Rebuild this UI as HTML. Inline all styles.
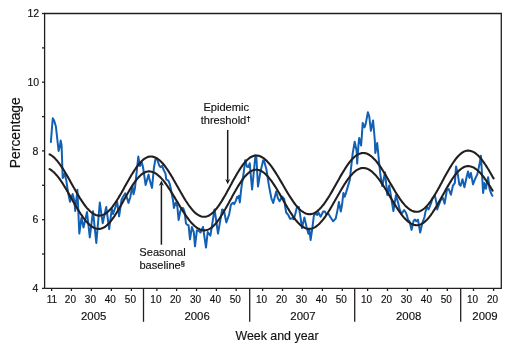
<!DOCTYPE html>
<html><head><meta charset="utf-8"><style>
html,body{margin:0;padding:0;background:#fff;width:518px;height:349px;overflow:hidden}
svg{display:block;will-change:transform}
</style></head><body>
<svg width="518" height="349" viewBox="0 0 518 349"><g fill="none" stroke="#231f20" stroke-width="1.3"><path d="M44.6,288.4 V13.5 H501.3 V288.4 H44.6"/><path d="M42.0,288.4 H44.6"/><path d="M42.0,254.0 H44.6"/><path d="M42.0,219.7 H44.6"/><path d="M42.0,185.3 H44.6"/><path d="M42.0,150.9 H44.6"/><path d="M42.0,116.6 H44.6"/><path d="M42.0,82.2 H44.6"/><path d="M42.0,47.9 H44.6"/><path d="M42.0,13.5 H44.6"/><path d="M51.6,288.4 V291.0"/><path d="M71.4,288.4 V291.0"/><path d="M91.4,288.4 V291.0"/><path d="M111.3,288.4 V291.0"/><path d="M131.4,288.4 V291.0"/><path d="M156.9,288.4 V291.0"/><path d="M176.6,288.4 V291.0"/><path d="M196.5,288.4 V291.0"/><path d="M216.4,288.4 V291.0"/><path d="M236.2,288.4 V291.0"/><path d="M262.6,288.4 V291.0"/><path d="M282.5,288.4 V291.0"/><path d="M302.4,288.4 V291.0"/><path d="M322.4,288.4 V291.0"/><path d="M342.3,288.4 V291.0"/><path d="M367.6,288.4 V291.0"/><path d="M387.5,288.4 V291.0"/><path d="M407.4,288.4 V291.0"/><path d="M427.4,288.4 V291.0"/><path d="M447.3,288.4 V291.0"/><path d="M473.5,288.4 V291.0"/><path d="M493.6,288.4 V291.0"/><path d="M143.5,288.4 V321.8"/><path d="M249.7,288.4 V321.8"/><path d="M354.7,288.4 V321.8"/><path d="M460.7,288.4 V321.8"/></g><g font-family="'Liberation Sans', sans-serif" fill="#111" stroke="#111" stroke-width="0.15"><text x="38.3" y="292.1" font-size="10.5" text-anchor="end">4</text><text x="38.3" y="223.4" font-size="10.5" text-anchor="end">6</text><text x="38.3" y="154.6" font-size="10.5" text-anchor="end">8</text><text x="39.2" y="85.9" font-size="10.5" text-anchor="end">10</text><text x="39.2" y="17.2" font-size="10.5" text-anchor="end">12</text><text x="51.9" y="302.6" font-size="10" text-anchor="middle">11</text><text x="70.4" y="302.6" font-size="10" text-anchor="middle">20</text><text x="90.4" y="302.6" font-size="10" text-anchor="middle">30</text><text x="110.3" y="302.6" font-size="10" text-anchor="middle">40</text><text x="130.4" y="302.6" font-size="10" text-anchor="middle">50</text><text x="155.9" y="302.6" font-size="10" text-anchor="middle">10</text><text x="175.6" y="302.6" font-size="10" text-anchor="middle">20</text><text x="195.5" y="302.6" font-size="10" text-anchor="middle">30</text><text x="215.4" y="302.6" font-size="10" text-anchor="middle">40</text><text x="235.2" y="302.6" font-size="10" text-anchor="middle">50</text><text x="261.6" y="302.6" font-size="10" text-anchor="middle">10</text><text x="281.5" y="302.6" font-size="10" text-anchor="middle">20</text><text x="301.4" y="302.6" font-size="10" text-anchor="middle">30</text><text x="321.4" y="302.6" font-size="10" text-anchor="middle">40</text><text x="341.3" y="302.6" font-size="10" text-anchor="middle">50</text><text x="366.6" y="302.6" font-size="10" text-anchor="middle">10</text><text x="386.5" y="302.6" font-size="10" text-anchor="middle">20</text><text x="406.4" y="302.6" font-size="10" text-anchor="middle">30</text><text x="426.4" y="302.6" font-size="10" text-anchor="middle">40</text><text x="446.3" y="302.6" font-size="10" text-anchor="middle">50</text><text x="472.5" y="302.6" font-size="10" text-anchor="middle">10</text><text x="492.6" y="302.6" font-size="10" text-anchor="middle">20</text><text x="93.7" y="320.3" font-size="11.4" text-anchor="middle">2005</text><text x="197.1" y="320.3" font-size="11.4" text-anchor="middle">2006</text><text x="303.0" y="320.3" font-size="11.4" text-anchor="middle">2007</text><text x="408.7" y="320.3" font-size="11.4" text-anchor="middle">2008</text><text x="485.0" y="320.3" font-size="11.4" text-anchor="middle">2009</text><text x="277" y="340.3" font-size="12.4" text-anchor="middle">Week and year</text><text transform="translate(19.8,132.7) rotate(-90)" font-size="13.9" text-anchor="middle">Percentage</text><text x="226.2" y="111.1" font-size="11.1" text-anchor="middle">Epidemic</text><text x="225.7" y="123.7" font-size="11.1" text-anchor="middle">threshold<tspan font-size="8" font-weight="bold" dy="-3">†</tspan></text><text x="162.5" y="255.7" font-size="11.1" text-anchor="middle">Seasonal</text><text x="162.2" y="268.6" font-size="11.1" text-anchor="middle">baseline<tspan font-size="7.5" font-weight="bold" dy="-3">§</tspan></text></g><g stroke="#1a1a1a" stroke-width="1.5" fill="none"><path d="M227.7,130 V180.5"/><path d="M161.4,244.7 V184.5"/></g><g fill="#1a1a1a"><path d="M227.7,184.2 L230.2,179.0 L227.7,180.4 L225.2,179.0 Z"/><path d="M161.4,180.6 L163.9,185.8 L161.4,184.4 L158.9,185.8 Z"/></g><path d="M50.9,141.9 L52.1,126.0 L52.8,118.3 L54.2,120.9 L55.9,126.5 L58.6,150.9 L59.9,146.2 L60.7,140.6 L61.6,145.3 L62.7,178.0 L64.4,173.8 L66.2,179.8 L67.9,191.5 L70.0,201.8 L72.6,194.0 L74.3,200.5 L75.2,211.0 L77.4,189.7 L79.3,233.5 L81.5,217.4 L83.5,227.5 L87.0,212.0 L89.8,237.4 L93.0,211.2 L96.3,243.0 L99.8,202.6 L102.7,223.2 L106.2,207.0 L109.2,229.2 L111.8,208.8 L113.0,214.0 L115.2,207.9 L117.2,202.0 L119.1,216.3 L121.5,200.0 L123.1,196.8 L125.3,193.3 L127.0,197.9 L128.5,202.9 L130.3,197.2 L132.4,185.4 L133.5,194.3 L134.9,188.6 L138.3,156.6 L140.0,166.0 L141.8,162.6 L143.0,167.0 L145.6,184.9 L148.6,174.6 L149.3,178.4 L152.0,187.9 L154.0,167.2 L155.7,157.7 L157.0,158.6 L159.2,165.5 L160.5,167.2 L162.2,165.9 L163.5,169.8 L165.4,173.4 L166.3,179.5 L168.4,180.7 L169.7,183.8 L171.0,189.8 L173.0,200.2 L173.9,207.9 L175.6,202.7 L177.3,206.2 L178.6,220.0 L180.3,211.3 L181.6,207.9 L183.3,208.3 L184.6,212.2 L186.0,223.6 L187.3,224.9 L188.6,225.3 L190.0,239.3 L191.9,227.0 L193.8,232.2 L195.0,246.3 L196.9,230.3 L199.0,231.0 L200.5,232.5 L203.0,227.0 L206.0,247.6 L207.7,232.0 L210.4,235.6 L214.5,209.5 L215.7,217.2 L218.0,233.5 L222.2,209.5 L223.9,210.3 L226.3,222.4 L229.1,214.6 L230.8,205.2 L232.1,203.4 L233.0,202.8 L234.2,204.1 L235.9,200.6 L237.2,196.8 L238.0,198.0 L238.9,195.9 L239.8,202.4 L240.6,194.6 L241.5,186.9 L243.8,172.0 L245.2,160.2 L247.0,166.8 L248.4,167.0 L249.7,163.2 L252.1,189.5 L255.4,155.5 L256.3,156.0 L258.0,186.5 L260.4,172.0 L263.2,160.3 L264.0,160.8 L266.4,169.3 L269.0,186.0 L271.4,198.3 L273.2,203.0 L276.2,191.4 L277.9,198.3 L279.6,201.3 L282.2,196.6 L284.3,199.2 L285.0,205.5 L286.2,212.5 L288.4,215.2 L290.1,218.8 L291.3,218.5 L292.3,218.1 L293.6,219.3 L294.9,215.5 L297.0,206.9 L298.8,206.9 L300.0,213.8 L302.0,228.0 L304.4,217.4 L306.8,227.9 L308.5,233.9 L309.3,229.0 L310.6,240.0 L312.4,227.9 L313.8,216.0 L315.4,213.2 L317.2,215.0 L318.4,212.4 L320.6,216.7 L323.2,211.5 L324.9,211.5 L326.2,214.1 L328.6,214.1 L330.5,217.3 L333.1,221.2 L335.7,218.6 L337.6,209.6 L338.9,201.9 L340.8,211.5 L342.1,204.5 L343.4,192.9 L344.7,196.7 L346.0,192.9 L347.9,186.4 L349.8,180.0 L351.1,167.7 L352.7,153.3 L354.7,141.7 L356.6,150.7 L357.2,163.6 L358.5,144.3 L359.2,137.9 L361.1,145.6 L361.9,135.0 L362.7,123.0 L364.5,127.4 L365.7,123.9 L367.9,112.3 L369.2,116.2 L370.9,130.8 L373.1,120.5 L374.8,140.0 L375.3,153.0 L377.2,143.0 L379.2,163.5 L380.4,175.0 L382.3,186.0 L385.0,172.5 L387.3,195.0 L389.2,185.5 L393.4,211.0 L395.9,195.3 L398.0,202.2 L399.8,210.0 L401.5,214.0 L404.1,210.0 L405.8,212.5 L406.9,215.3 L408.2,220.5 L409.4,220.9 L411.6,229.9 L413.7,220.5 L415.0,219.6 L416.3,221.3 L418.0,219.6 L420.2,232.5 L422.3,223.0 L424.5,217.0 L425.2,212.8 L426.9,207.1 L428.6,209.4 L430.9,203.7 L432.6,197.9 L434.9,195.6 L436.6,203.7 L437.2,209.4 L440.6,200.2 L442.9,197.9 L444.6,203.7 L446.9,190.0 L448.7,189.0 L450.9,194.7 L452.9,185.7 L454.8,183.2 L456.1,166.4 L458.0,175.4 L459.3,184.5 L460.6,185.7 L462.5,179.3 L464.4,187.2 L466.6,177.2 L468.0,171.5 L469.4,177.9 L470.9,172.9 L473.0,184.4 L475.2,178.7 L477.3,174.4 L479.5,164.3 L480.9,155.7 L482.3,178.7 L483.1,193.0 L484.5,183.0 L485.9,188.7 L488.1,177.2 L489.5,188.7 L490.9,193.0 L492.4,195.8" fill="none" stroke="#1260b4" stroke-width="2.0" stroke-linejoin="round" stroke-linecap="round"/><path d="M49.6,154.3 L50.6,154.9 L51.6,155.5 L52.6,156.3 L53.6,157.1 L54.6,158.1 L55.6,159.1 L56.6,160.2 L57.6,161.4 L58.6,162.6 L59.6,164.0 L60.6,165.4 L61.6,166.8 L62.6,168.3 L63.6,169.9 L64.6,171.5 L65.6,173.2 L66.6,174.9 L67.6,176.6 L68.6,178.3 L69.6,180.1 L70.6,181.9 L71.6,183.7 L72.6,185.5 L73.6,187.3 L74.6,189.0 L75.6,190.8 L76.6,192.5 L77.6,194.2 L78.6,195.9 L79.6,197.6 L80.6,199.2 L81.6,200.7 L82.6,202.2 L83.6,203.7 L84.6,205.0 L85.6,206.3 L86.6,207.6 L87.6,208.7 L88.6,209.8 L89.6,210.8 L90.6,211.7 L91.6,212.5 L92.6,213.3 L93.6,213.9 L94.6,214.4 L95.6,214.9 L96.6,215.2 L97.6,215.4 L98.6,215.6 L99.6,215.6 L100.6,215.5 L101.6,215.3 L102.6,215.0 L103.6,214.6 L104.6,214.1 L105.6,213.5 L106.6,212.8 L107.6,212.0 L108.6,211.1 L109.6,210.1 L110.6,209.0 L111.6,207.8 L112.6,206.6 L113.6,205.2 L114.6,203.8 L115.6,202.4 L116.6,200.8 L117.6,199.2 L118.6,197.6 L119.6,195.9 L120.6,194.2 L121.6,192.5 L122.6,190.7 L123.6,188.9 L124.6,187.1 L125.6,185.3 L126.6,183.5 L127.6,181.7 L128.6,180.0 L129.6,178.2 L130.6,176.5 L131.6,174.8 L132.6,173.2 L133.6,171.6 L134.6,170.0 L135.6,168.6 L136.6,167.1 L137.6,165.8 L138.6,164.5 L139.6,163.3 L140.6,162.2 L141.6,161.2 L142.6,160.3 L143.6,159.4 L144.6,158.7 L145.6,158.1 L146.6,157.6 L147.6,157.1 L148.6,156.8 L149.6,156.6 L150.6,156.5 L151.6,156.5 L152.6,156.6 L153.6,156.9 L154.6,157.2 L155.6,157.6 L156.6,158.1 L157.6,158.8 L158.6,159.5 L159.6,160.3 L160.6,161.2 L161.6,162.2 L162.6,163.3 L163.6,164.5 L164.6,165.7 L165.6,167.1 L166.6,168.5 L167.6,169.9 L168.6,171.4 L169.6,173.0 L170.6,174.6 L171.6,176.3 L172.6,177.9 L173.6,179.7 L174.6,181.4 L175.6,183.2 L176.6,185.0 L177.6,186.7 L178.6,188.5 L179.6,190.3 L180.6,192.1 L181.6,193.8 L182.6,195.5 L183.6,197.2 L184.6,198.9 L185.6,200.5 L186.6,202.0 L187.6,203.5 L188.6,205.0 L189.6,206.4 L190.6,207.7 L191.6,208.9 L192.6,210.1 L193.6,211.2 L194.6,212.2 L195.6,213.1 L196.6,213.9 L197.6,214.6 L198.6,215.2 L199.6,215.7 L200.6,216.2 L201.6,216.5 L202.6,216.7 L203.6,216.8 L204.6,216.8 L205.6,216.7 L206.6,216.5 L207.6,216.1 L208.6,215.7 L209.6,215.1 L210.6,214.5 L211.6,213.7 L212.6,212.9 L213.6,211.9 L214.6,210.9 L215.6,209.7 L216.6,208.5 L217.6,207.2 L218.6,205.8 L219.6,204.4 L220.6,202.8 L221.6,201.3 L222.6,199.6 L223.6,197.9 L224.6,196.2 L225.6,194.5 L226.6,192.7 L227.6,190.8 L228.6,189.0 L229.6,187.2 L230.6,185.3 L231.6,183.5 L232.6,181.6 L233.6,179.8 L234.6,178.0 L235.6,176.3 L236.6,174.5 L237.6,172.8 L238.6,171.2 L239.6,169.6 L240.6,168.1 L241.6,166.6 L242.6,165.2 L243.6,163.9 L244.6,162.7 L245.6,161.6 L246.6,160.5 L247.6,159.5 L248.6,158.7 L249.6,157.9 L250.6,157.2 L251.6,156.7 L252.6,156.2 L253.6,155.9 L254.6,155.6 L255.6,155.5 L256.6,155.5 L257.6,155.6 L258.6,155.8 L259.6,156.1 L260.6,156.5 L261.6,157.0 L262.6,157.6 L263.6,158.2 L264.6,159.0 L265.6,159.9 L266.6,160.8 L267.6,161.9 L268.6,163.0 L269.6,164.2 L270.6,165.4 L271.6,166.7 L272.6,168.1 L273.6,169.6 L274.6,171.1 L275.6,172.6 L276.6,174.2 L277.6,175.8 L278.6,177.5 L279.6,179.2 L280.6,180.9 L281.6,182.6 L282.6,184.3 L283.6,186.1 L284.6,187.8 L285.6,189.5 L286.6,191.2 L287.6,192.9 L288.6,194.5 L289.6,196.1 L290.6,197.7 L291.6,199.2 L292.6,200.7 L293.6,202.1 L294.6,203.5 L295.6,204.8 L296.6,206.0 L297.6,207.2 L298.6,208.3 L299.6,209.3 L300.6,210.2 L301.6,211.0 L302.6,211.7 L303.6,212.4 L304.6,212.9 L305.6,213.4 L306.6,213.7 L307.6,214.0 L308.6,214.1 L309.6,214.2 L310.6,214.1 L311.6,214.0 L312.6,213.7 L313.6,213.4 L314.6,212.9 L315.6,212.3 L316.6,211.7 L317.6,210.9 L318.6,210.0 L319.6,209.1 L320.6,208.1 L321.6,206.9 L322.6,205.7 L323.6,204.5 L324.6,203.1 L325.6,201.7 L326.6,200.2 L327.6,198.7 L328.6,197.1 L329.6,195.5 L330.6,193.8 L331.6,192.1 L332.6,190.4 L333.6,188.6 L334.6,186.8 L335.6,185.0 L336.6,183.2 L337.6,181.4 L338.6,179.7 L339.6,177.9 L340.6,176.1 L341.6,174.4 L342.6,172.7 L343.6,171.1 L344.6,169.5 L345.6,167.9 L346.6,166.4 L347.6,164.9 L348.6,163.5 L349.6,162.2 L350.6,161.0 L351.6,159.8 L352.6,158.7 L353.6,157.7 L354.6,156.8 L355.6,156.0 L356.6,155.3 L357.6,154.6 L358.6,154.1 L359.6,153.7 L360.6,153.4 L361.6,153.1 L362.6,153.0 L363.6,153.0 L364.6,153.1 L365.6,153.3 L366.6,153.6 L367.6,154.0 L368.6,154.5 L369.6,155.1 L370.6,155.8 L371.6,156.5 L372.6,157.4 L373.6,158.4 L374.6,159.4 L375.6,160.5 L376.6,161.7 L377.6,163.0 L378.6,164.3 L379.6,165.7 L380.6,167.2 L381.6,168.7 L382.6,170.2 L383.6,171.8 L384.6,173.4 L385.6,175.1 L386.6,176.8 L387.6,178.5 L388.6,180.2 L389.6,182.0 L390.6,183.7 L391.6,185.4 L392.6,187.1 L393.6,188.8 L394.6,190.5 L395.6,192.2 L396.6,193.8 L397.6,195.4 L398.6,196.9 L399.6,198.4 L400.6,199.8 L401.6,201.2 L402.6,202.5 L403.6,203.7 L404.6,204.9 L405.6,205.9 L406.6,206.9 L407.6,207.8 L408.6,208.7 L409.6,209.4 L410.6,210.0 L411.6,210.6 L412.6,211.0 L413.6,211.4 L414.6,211.6 L415.6,211.8 L416.6,211.8 L417.6,211.7 L418.6,211.6 L419.6,211.3 L420.6,210.9 L421.6,210.3 L422.6,209.7 L423.6,209.0 L424.6,208.2 L425.6,207.3 L426.6,206.2 L427.6,205.1 L428.6,203.9 L429.6,202.6 L430.6,201.3 L431.6,199.8 L432.6,198.3 L433.6,196.8 L434.6,195.1 L435.6,193.5 L436.6,191.7 L437.6,190.0 L438.6,188.2 L439.6,186.4 L440.6,184.5 L441.6,182.7 L442.6,180.8 L443.6,179.0 L444.6,177.1 L445.6,175.3 L446.6,173.5 L447.6,171.7 L448.6,170.0 L449.6,168.3 L450.6,166.6 L451.6,165.0 L452.6,163.5 L453.6,162.0 L454.6,160.6 L455.6,159.2 L456.6,158.0 L457.6,156.8 L458.6,155.7 L459.6,154.8 L460.6,153.9 L461.6,153.1 L462.6,152.4 L463.6,151.8 L464.6,151.4 L465.6,151.0 L466.6,150.8 L467.6,150.6 L468.6,150.6 L469.6,150.7 L470.6,150.9 L471.6,151.2 L472.6,151.6 L473.6,152.1 L474.6,152.7 L475.6,153.4 L476.6,154.2 L477.6,155.0 L478.6,156.0 L479.6,157.1 L480.6,158.2 L481.6,159.5 L482.6,160.8 L483.6,162.1 L484.6,163.6 L485.6,165.0 L486.6,166.6 L487.6,168.2 L488.6,169.8 L489.6,171.5 L490.6,173.2 L491.6,174.9 L492.6,176.7 L493.6,178.4" fill="none" stroke="#231f20" stroke-width="2.1" stroke-linecap="round"/><path d="M49.6,169.1 L50.6,169.7 L51.6,170.4 L52.6,171.2 L53.6,172.0 L54.6,173.0 L55.6,174.1 L56.6,175.2 L57.6,176.4 L58.6,177.7 L59.6,179.0 L60.6,180.4 L61.6,181.9 L62.6,183.4 L63.6,185.0 L64.6,186.6 L65.6,188.2 L66.6,189.9 L67.6,191.6 L68.6,193.4 L69.6,195.1 L70.6,196.9 L71.6,198.6 L72.6,200.4 L73.6,202.2 L74.6,203.9 L75.6,205.6 L76.6,207.3 L77.6,209.0 L78.6,210.6 L79.6,212.2 L80.6,213.8 L81.6,215.2 L82.6,216.7 L83.6,218.1 L84.6,219.4 L85.6,220.6 L86.6,221.8 L87.6,222.9 L88.6,223.9 L89.6,224.8 L90.6,225.6 L91.6,226.4 L92.6,227.0 L93.6,227.6 L94.6,228.1 L95.6,228.4 L96.6,228.7 L97.6,228.8 L98.6,228.9 L99.6,228.9 L100.6,228.7 L101.6,228.4 L102.6,228.1 L103.6,227.6 L104.6,227.0 L105.6,226.3 L106.6,225.5 L107.6,224.6 L108.6,223.6 L109.6,222.5 L110.6,221.3 L111.6,220.1 L112.6,218.7 L113.6,217.3 L114.6,215.9 L115.6,214.3 L116.6,212.7 L117.6,211.1 L118.6,209.4 L119.6,207.7 L120.6,205.9 L121.6,204.2 L122.6,202.4 L123.6,200.6 L124.6,198.8 L125.6,197.0 L126.6,195.2 L127.6,193.5 L128.6,191.7 L129.6,190.0 L130.6,188.4 L131.6,186.8 L132.6,185.2 L133.6,183.7 L134.6,182.3 L135.6,180.9 L136.6,179.6 L137.6,178.4 L138.6,177.3 L139.6,176.2 L140.6,175.3 L141.6,174.4 L142.6,173.7 L143.6,173.0 L144.6,172.5 L145.6,172.0 L146.6,171.7 L147.6,171.5 L148.6,171.4 L149.6,171.4 L150.6,171.5 L151.6,171.7 L152.6,172.0 L153.6,172.4 L154.6,172.9 L155.6,173.4 L156.6,174.1 L157.6,174.8 L158.6,175.7 L159.6,176.6 L160.6,177.6 L161.6,178.6 L162.6,179.7 L163.6,180.9 L164.6,182.2 L165.6,183.5 L166.6,184.9 L167.6,186.3 L168.6,187.8 L169.6,189.3 L170.6,190.9 L171.6,192.5 L172.6,194.1 L173.6,195.7 L174.6,197.4 L175.6,199.1 L176.6,200.7 L177.6,202.4 L178.6,204.1 L179.6,205.7 L180.6,207.4 L181.6,209.0 L182.6,210.6 L183.6,212.2 L184.6,213.7 L185.6,215.2 L186.6,216.6 L187.6,218.0 L188.6,219.3 L189.6,220.6 L190.6,221.8 L191.6,223.0 L192.6,224.0 L193.6,225.0 L194.6,226.0 L195.6,226.8 L196.6,227.6 L197.6,228.2 L198.6,228.8 L199.6,229.3 L200.6,229.7 L201.6,230.0 L202.6,230.2 L203.6,230.4 L204.6,230.4 L205.6,230.3 L206.6,230.1 L207.6,229.8 L208.6,229.4 L209.6,228.9 L210.6,228.3 L211.6,227.6 L212.6,226.7 L213.6,225.8 L214.6,224.8 L215.6,223.7 L216.6,222.5 L217.6,221.2 L218.6,219.8 L219.6,218.4 L220.6,216.9 L221.6,215.3 L222.6,213.7 L223.6,212.0 L224.6,210.3 L225.6,208.6 L226.6,206.8 L227.6,205.0 L228.6,203.2 L229.6,201.3 L230.6,199.5 L231.6,197.7 L232.6,195.8 L233.6,194.0 L234.6,192.2 L235.6,190.5 L236.6,188.7 L237.6,187.0 L238.6,185.4 L239.6,183.8 L240.6,182.3 L241.6,180.8 L242.6,179.5 L243.6,178.1 L244.6,176.9 L245.6,175.8 L246.6,174.7 L247.6,173.7 L248.6,172.9 L249.6,172.1 L250.6,171.4 L251.6,170.9 L252.6,170.4 L253.6,170.1 L254.6,169.8 L255.6,169.7 L256.6,169.7 L257.6,169.8 L258.6,170.0 L259.6,170.3 L260.6,170.7 L261.6,171.2 L262.6,171.8 L263.6,172.5 L264.6,173.3 L265.6,174.2 L266.6,175.1 L267.6,176.2 L268.6,177.3 L269.6,178.6 L270.6,179.8 L271.6,181.2 L272.6,182.6 L273.6,184.1 L274.6,185.6 L275.6,187.2 L276.6,188.8 L277.6,190.5 L278.6,192.2 L279.6,193.9 L280.6,195.6 L281.6,197.4 L282.6,199.1 L283.6,200.9 L284.6,202.6 L285.6,204.4 L286.6,206.1 L287.6,207.8 L288.6,209.4 L289.6,211.1 L290.6,212.7 L291.6,214.2 L292.6,215.7 L293.6,217.1 L294.6,218.5 L295.6,219.8 L296.6,221.0 L297.6,222.2 L298.6,223.2 L299.6,224.2 L300.6,225.1 L301.6,225.9 L302.6,226.7 L303.6,227.3 L304.6,227.8 L305.6,228.2 L306.6,228.5 L307.6,228.8 L308.6,228.9 L309.6,228.9 L310.6,228.8 L311.6,228.6 L312.6,228.3 L313.6,227.9 L314.6,227.4 L315.6,226.8 L316.6,226.1 L317.6,225.3 L318.6,224.5 L319.6,223.5 L320.6,222.4 L321.6,221.3 L322.6,220.1 L323.6,218.8 L324.6,217.5 L325.6,216.1 L326.6,214.6 L327.6,213.1 L328.6,211.5 L329.6,209.9 L330.6,208.2 L331.6,206.5 L332.6,204.8 L333.6,203.0 L334.6,201.3 L335.6,199.5 L336.6,197.7 L337.6,196.0 L338.6,194.2 L339.6,192.5 L340.6,190.7 L341.6,189.0 L342.6,187.4 L343.6,185.7 L344.6,184.2 L345.6,182.6 L346.6,181.1 L347.6,179.7 L348.6,178.3 L349.6,177.0 L350.6,175.8 L351.6,174.7 L352.6,173.6 L353.6,172.6 L354.6,171.7 L355.6,170.9 L356.6,170.2 L357.6,169.6 L358.6,169.1 L359.6,168.7 L360.6,168.3 L361.6,168.1 L362.6,168.0 L363.6,168.0 L364.6,168.1 L365.6,168.3 L366.6,168.6 L367.6,168.9 L368.6,169.4 L369.6,170.0 L370.6,170.6 L371.6,171.4 L372.6,172.2 L373.6,173.2 L374.6,174.2 L375.6,175.2 L376.6,176.4 L377.6,177.6 L378.6,178.9 L379.6,180.2 L380.6,181.6 L381.6,183.1 L382.6,184.6 L383.6,186.1 L384.6,187.7 L385.6,189.3 L386.6,190.9 L387.6,192.6 L388.6,194.3 L389.6,195.9 L390.6,197.6 L391.6,199.3 L392.6,200.9 L393.6,202.6 L394.6,204.2 L395.6,205.8 L396.6,207.4 L397.6,208.9 L398.6,210.4 L399.6,211.9 L400.6,213.2 L401.6,214.6 L402.6,215.9 L403.6,217.1 L404.6,218.2 L405.6,219.3 L406.6,220.2 L407.6,221.1 L408.6,222.0 L409.6,222.7 L410.6,223.3 L411.6,223.9 L412.6,224.3 L413.6,224.7 L414.6,225.0 L415.6,225.1 L416.6,225.2 L417.6,225.2 L418.6,225.0 L419.6,224.8 L420.6,224.4 L421.6,223.9 L422.6,223.4 L423.6,222.7 L424.6,221.9 L425.6,221.0 L426.6,220.1 L427.6,219.0 L428.6,217.8 L429.6,216.6 L430.6,215.3 L431.6,213.9 L432.6,212.5 L433.6,210.9 L434.6,209.4 L435.6,207.7 L436.6,206.1 L437.6,204.4 L438.6,202.6 L439.6,200.9 L440.6,199.1 L441.6,197.3 L442.6,195.5 L443.6,193.7 L444.6,191.9 L445.6,190.1 L446.6,188.3 L447.6,186.6 L448.6,184.9 L449.6,183.2 L450.6,181.6 L451.6,180.0 L452.6,178.5 L453.6,177.1 L454.6,175.7 L455.6,174.4 L456.6,173.2 L457.6,172.1 L458.6,171.0 L459.6,170.1 L460.6,169.2 L461.6,168.5 L462.6,167.8 L463.6,167.3 L464.6,166.8 L465.6,166.5 L466.6,166.2 L467.6,166.1 L468.6,166.1 L469.6,166.2 L470.6,166.4 L471.6,166.7 L472.6,167.1 L473.6,167.5 L474.6,168.1 L475.6,168.8 L476.6,169.5 L477.6,170.4 L478.6,171.3 L479.6,172.3 L480.6,173.4 L481.6,174.5 L482.6,175.7 L483.6,177.0 L484.6,178.4 L485.6,179.8 L486.6,181.2 L487.6,182.7 L488.6,184.2 L489.6,185.8 L490.6,187.4 L491.6,189.0 L492.6,190.6" fill="none" stroke="#231f20" stroke-width="2.1" stroke-linecap="round"/></svg>
</body></html>
